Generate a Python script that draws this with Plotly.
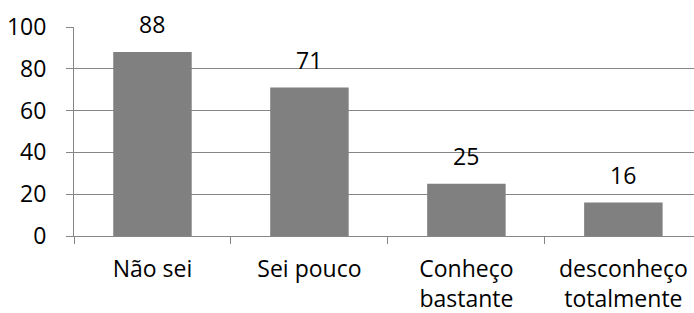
import plotly.graph_objects as go

categories = ["Não sei", "Sei pouco", "Conheço<br>bastante", "desconheço<br>totalmente"]
values = [88, 71, 25, 16]
y_ticks = [0, 20, 40, 60, 80, 100]

FONT = "Open Sans"
AX = "#868686"
FS = 23

fig = go.Figure()
fig.add_trace(go.Bar(
    x=list(range(len(categories))), y=values, width=0.5,
    marker=dict(color="#808080", line=dict(width=0)),
    hoverinfo="skip",
))
for i, v in enumerate(values):
    fig.add_annotation(x=i, y=v, text=str(v), showarrow=False,
                       yanchor="bottom", yshift=10,
                       font=dict(family=FONT, size=FS, color="black"))

fig.update_layout(
    width=694, height=313,
    margin=dict(l=74, r=0, t=27, b=77),
    paper_bgcolor="white", plot_bgcolor="white",
    showlegend=False,
    font=dict(family=FONT, size=FS, color="black"),
    bargap=0.5,
)
fig.update_xaxes(
    range=[-0.5, 3.45], automargin=False,
    tickmode="array", tickvals=list(range(len(categories))), ticktext=categories,
    showgrid=False, showline=True, linecolor=AX, linewidth=1,
    ticks="", zeroline=False,
    minor=dict(tickmode="array", tickvals=[-0.5, 0.5, 1.5, 2.5, 3.5],
               ticks="outside", ticklen=7, tickcolor=AX, showgrid=False),
    ticklabelstandoff=12,
)
fig.update_yaxes(
    range=[0, 100], tickmode="array", tickvals=y_ticks, automargin=False,
    showgrid=True, gridcolor=AX, gridwidth=1,
    showline=True, linecolor=AX, linewidth=1,
    ticks="outside", ticklen=7, tickcolor=AX,
    zeroline=False, ticklabelstandoff=15,
)
fig.write_html("out.html", config={"displayModeBar": False},
               post_script="document.body.style.margin='0';document.body.style.overflow='hidden';")
